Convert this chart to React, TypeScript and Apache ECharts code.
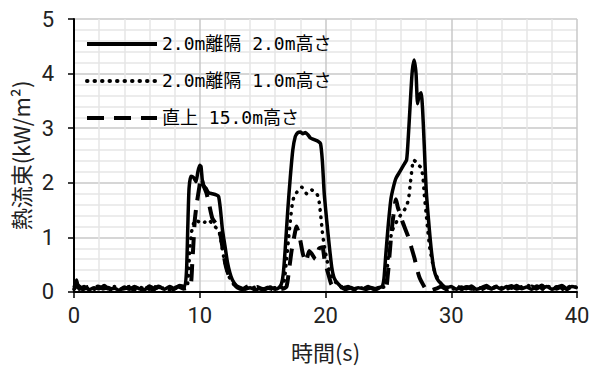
import React, { useEffect, useRef } from "react";
import * as echarts from "echarts";

const seriesNames = ["2.0m離隔 2.0m高さ", "2.0m離隔 1.0m高さ", "直上 15.0m高さ"];

const solid2m: number[][] = [
  [0, 0.08], [0.2, 0.22], [0.4, 0.05], [0.8, 0.1], [1.2, 0.04], [1.6, 0.08], [2.0, 0.06], [2.4, 0.12],
  [2.8, 0.05], [3.2, 0.07], [3.6, 0.03], [4.0, 0.09], [4.4, 0.05], [4.8, 0.1], [5.2, 0.06], [5.6, 0.04],
  [6.0, 0.11], [6.4, 0.06], [6.8, 0.09], [7.2, 0.05], [7.6, 0.1], [8.0, 0.06], [8.4, 0.12], [8.8, 0.1],
  [8.95, 0.4], [9.05, 1.2], [9.15, 1.9], [9.3, 2.12], [9.5, 2.1], [9.7, 2.02], [9.85, 2.2], [10.0, 2.32],
  [10.1, 2.3], [10.2, 2.05], [10.3, 1.95], [10.5, 1.9], [10.7, 1.82], [11.0, 1.8], [11.3, 1.78], [11.5, 1.75],
  [11.65, 1.5], [11.8, 1.15], [12.0, 0.85], [12.2, 0.55], [12.4, 0.35], [12.6, 0.22], [12.9, 0.12], [13.2, 0.08],
  [13.6, 0.05], [14.0, 0.08], [14.4, 0.04], [14.8, 0.07], [15.2, 0.05], [15.6, 0.09], [16.0, 0.05], [16.3, 0.08],
  [16.5, 0.15], [16.65, 0.35], [16.8, 0.8], [17.0, 1.5], [17.2, 2.1], [17.4, 2.6], [17.6, 2.85], [17.8, 2.92],
  [18.0, 2.93], [18.2, 2.9], [18.4, 2.92], [18.6, 2.88], [18.8, 2.82], [19.0, 2.8], [19.2, 2.78], [19.4, 2.76],
  [19.6, 2.72], [19.75, 2.4], [19.9, 1.8], [20.1, 1.3], [20.3, 0.85], [20.5, 0.45], [20.7, 0.25], [21.0, 0.15],
  [21.4, 0.08], [21.8, 0.1], [22.2, 0.05], [22.6, 0.08], [23.0, 0.06], [23.4, 0.1], [23.8, 0.05], [24.2, 0.08],
  [24.5, 0.1], [24.65, 0.25], [24.8, 0.7], [25.0, 1.25], [25.2, 1.7], [25.4, 1.92], [25.6, 2.08], [25.9, 2.2],
  [26.2, 2.32], [26.45, 2.42], [26.6, 2.9], [26.75, 3.5], [26.9, 4.05], [27.05, 4.25], [27.2, 4.0], [27.32, 3.45],
  [27.45, 3.6], [27.6, 3.65], [27.72, 3.35], [27.85, 2.7], [28.0, 1.9], [28.2, 1.3], [28.4, 0.8], [28.6, 0.45],
  [28.85, 0.25], [29.2, 0.15], [29.6, 0.08], [30.0, 0.1], [30.4, 0.05], [30.8, 0.09], [31.2, 0.06], [31.6, 0.11],
  [32.0, 0.05], [32.4, 0.08], [32.8, 0.12], [33.2, 0.06], [33.6, 0.09], [34.0, 0.05], [34.4, 0.1], [34.8, 0.07],
  [35.2, 0.12], [35.6, 0.06], [36.0, 0.09], [36.4, 0.05], [36.8, 0.11], [37.2, 0.07], [37.6, 0.1], [38.0, 0.05],
  [38.4, 0.09], [38.8, 0.12], [39.2, 0.06], [39.6, 0.1], [40.0, 0.08],
];

const dotted1m: number[][] = [
  [0, 0.05], [0.4, 0.1], [0.8, 0.04], [1.2, 0.08], [1.6, 0.05], [2.0, 0.1], [2.4, 0.04], [2.8, 0.08],
  [3.2, 0.1], [3.6, 0.05], [4.0, 0.07], [4.4, 0.1], [4.8, 0.04], [5.2, 0.09], [5.6, 0.06], [6.0, 0.05],
  [6.4, 0.1], [6.8, 0.05], [7.2, 0.08], [7.6, 0.04], [8.0, 0.09], [8.4, 0.06], [8.8, 0.08], [9.0, 0.1],
  [9.1, 0.3], [9.2, 0.75], [9.35, 1.1], [9.5, 1.25], [9.65, 1.32], [9.8, 1.3], [10.0, 1.28], [10.2, 1.25],
  [10.4, 1.28], [10.6, 1.32], [10.8, 1.3], [11.0, 1.25], [11.2, 1.2], [11.4, 1.15], [11.6, 1.05], [11.75, 0.85],
  [11.9, 0.65], [12.1, 0.45], [12.3, 0.3], [12.5, 0.2], [12.8, 0.12], [13.2, 0.08], [13.6, 0.1], [14.0, 0.05],
  [14.4, 0.09], [14.8, 0.06], [15.2, 0.1], [15.6, 0.05], [16.0, 0.08], [16.3, 0.06], [16.6, 0.1], [16.75, 0.25],
  [16.9, 0.6], [17.05, 0.95], [17.2, 1.3], [17.35, 1.6], [17.5, 1.75], [17.7, 1.82], [17.9, 1.88], [18.1, 1.92],
  [18.3, 1.88], [18.5, 1.8], [18.7, 1.85], [18.9, 1.87], [19.1, 1.82], [19.3, 1.8], [19.45, 1.72], [19.6, 1.45],
  [19.75, 1.1], [19.9, 0.85], [20.1, 0.6], [20.3, 0.4], [20.5, 0.28], [20.8, 0.18], [21.2, 0.1], [21.6, 0.06],
  [22.0, 0.1], [22.4, 0.05], [22.8, 0.08], [23.2, 0.04], [23.6, 0.09], [24.0, 0.06], [24.4, 0.08], [24.7, 0.1],
  [24.85, 0.3], [25.0, 0.65], [25.15, 0.95], [25.3, 1.12], [25.5, 1.22], [25.8, 1.35], [26.1, 1.45], [26.4, 1.55],
  [26.6, 1.7], [26.75, 2.0], [26.9, 2.3], [27.0, 2.42], [27.2, 2.38], [27.4, 2.32], [27.6, 2.28], [27.75, 2.1],
  [27.85, 1.8], [28.0, 1.45], [28.15, 1.1], [28.3, 0.8], [28.5, 0.55], [28.7, 0.35], [29.0, 0.22], [29.3, 0.12],
  [29.7, 0.08], [30.1, 0.05], [30.5, 0.1], [30.9, 0.06], [31.3, 0.09], [31.7, 0.04], [32.1, 0.1], [32.5, 0.06],
  [32.9, 0.08], [33.3, 0.11], [33.7, 0.05], [34.1, 0.09], [34.5, 0.06], [34.9, 0.1], [35.3, 0.05], [35.7, 0.08],
  [36.1, 0.12], [36.5, 0.06], [36.9, 0.09], [37.3, 0.05], [37.7, 0.1], [38.1, 0.07], [38.5, 0.11], [38.9, 0.05],
  [39.3, 0.09], [39.7, 0.12], [40.0, 0.07],
];

const dashed15m: number[][] = [
  [0, 0.06], [0.3, 0.12], [0.7, 0.05], [1.1, 0.09], [1.5, 0.04], [1.9, 0.1], [2.3, 0.06], [2.7, 0.08],
  [3.1, 0.04], [3.5, 0.1], [3.9, 0.06], [4.3, 0.08], [4.7, 0.05], [5.1, 0.1], [5.5, 0.05], [5.9, 0.08],
  [6.3, 0.04], [6.7, 0.1], [7.1, 0.06], [7.5, 0.09], [7.9, 0.05], [8.3, 0.1], [8.7, 0.06], [9.1, 0.08],
  [9.3, 0.15], [9.4, 0.5], [9.5, 0.9], [9.6, 1.3], [9.75, 1.6], [9.95, 1.9], [10.1, 2.1], [10.3, 1.95],
  [10.55, 1.8], [10.75, 1.6], [11.0, 1.35], [11.3, 1.25], [11.6, 1.1], [11.85, 0.75], [12.1, 0.45], [12.4, 0.25],
  [12.7, 0.15], [13.0, 0.08], [13.4, 0.05], [13.8, 0.1], [14.2, 0.06], [14.6, 0.09], [15.0, 0.04], [15.4, 0.08],
  [15.8, 0.05], [16.2, 0.09], [16.6, 0.06], [16.9, 0.1], [17.1, 0.4], [17.3, 0.75], [17.5, 1.0], [17.7, 1.2],
  [17.95, 1.0], [18.2, 0.7], [18.45, 0.55], [18.7, 0.75], [18.9, 0.7], [19.2, 0.6], [19.5, 0.8], [19.75, 0.82],
  [19.95, 0.55], [20.2, 0.35], [20.45, 0.15], [20.8, 0.05], [21.2, 0.09], [21.6, 0.05], [22.0, 0.08], [22.4, 0.04],
  [22.8, 0.1], [23.2, 0.05], [23.6, 0.08], [24.0, 0.05], [24.4, 0.09], [24.8, 0.08], [24.95, 0.3], [25.1, 0.7],
  [25.25, 1.1], [25.4, 1.4], [25.6, 1.7], [25.75, 1.55], [25.9, 1.45], [26.1, 1.3], [26.35, 1.15], [26.6, 1.0],
  [26.85, 0.8], [27.1, 0.6], [27.3, 0.4], [27.5, 0.25], [27.8, 0.12], [28.1, 0.02], [28.4, 0.03], [28.8, 0.06],
  [29.2, 0.1], [29.6, 0.05], [30.0, 0.08], [30.4, 0.12], [30.8, 0.05], [31.2, 0.09], [31.6, 0.06], [32.0, 0.1],
  [32.4, 0.05], [32.8, 0.09], [33.2, 0.06], [33.6, 0.1], [34.0, 0.05], [34.4, 0.08], [34.8, 0.11], [35.2, 0.06],
  [35.6, 0.09], [36.0, 0.05], [36.4, 0.1], [36.8, 0.06], [37.2, 0.12], [37.6, 0.05], [38.0, 0.09], [38.4, 0.06],
  [38.8, 0.1], [39.2, 0.05], [39.6, 0.11], [40.0, 0.06],
];

const xTitle = "時間(s)";
const yTitle = "熱流束(kW/m²)";

const numFont = "'Roboto', 'Noto Sans CJK JP', sans-serif";
const cjkFont = "'Noto Sans CJK JP', sans-serif";
const legendFont = "'DejaVu Sans Mono', 'Noto Sans CJK JP', monospace";

export default function App() {
  const ref = useRef<HTMLDivElement>(null);
  useEffect(() => {
    if (!ref.current) return;
    const chart = echarts.init(ref.current, null, { renderer: "svg" });
    const lineCommon = { type: "line", showSymbol: false, symbol: "none", smooth: 0.2 };
    chart.setOption({
      animation: false,
      grid: { left: 74, right: 22, top: 19, bottom: 75 },
      legend: {
        orient: "vertical",
        left: 85,
        top: 35,
        padding: 0,
        itemWidth: 70,
        itemHeight: 18,
        itemGap: 19,
        selectedMode: false,
        icon: "inherit",
        itemStyle: { opacity: 0, borderWidth: 0 },
        lineStyle: { width: 4 },
        textStyle: { fontFamily: legendFont, fontSize: 18, color: "#000" },
        data: seriesNames,
      },
      xAxis: {
        type: "value",
        min: 0,
        max: 40,
        interval: 10,
        name: xTitle,
        nameLocation: "middle",
        nameGap: 48,
        nameTextStyle: { fontFamily: cjkFont, fontSize: 22, color: "#222" },
        axisLine: { show: true, onZero: false, lineStyle: { color: "#000", width: 2 } },
        axisTick: { show: true, length: 6, lineStyle: { color: "#000", width: 1.5 } },
        axisLabel: { fontFamily: numFont, fontSize: 22, color: "#222", margin: 12 },
        splitLine: { show: true, lineStyle: { color: "#c8c8c8", width: 1.5 } },
        minorTick: { show: false, splitNumber: 5 },
        minorSplitLine: { show: true, lineStyle: { color: "#e6e6e6", width: 1.5 } },
      },
      yAxis: {
        type: "value",
        min: 0,
        max: 5,
        interval: 1,
        name: yTitle,
        nameLocation: "middle",
        nameGap: 36,
        nameTextStyle: { fontFamily: cjkFont, fontSize: 22, color: "#222" },
        axisLine: { show: true, lineStyle: { color: "#000", width: 2 } },
        axisTick: { show: true, length: 6, lineStyle: { color: "#000", width: 1.5 } },
        axisLabel: { fontFamily: numFont, fontSize: 22, color: "#222", margin: 20 },
        splitLine: { show: true, lineStyle: { color: "#c8c8c8", width: 1.5 } },
        minorTick: { show: false, splitNumber: 5 },
        minorSplitLine: { show: true, lineStyle: { color: "#e6e6e6", width: 1.5 } },
      },
      series: [
        {
          ...lineCommon,
          name: seriesNames[0],
          data: solid2m,
          itemStyle: { color: "#000" },
          lineStyle: { color: "#000", width: 3.5, type: "solid" },
          z: 3,
        },
        {
          ...lineCommon,
          name: seriesNames[1],
          data: dotted1m,
          itemStyle: { color: "#000" },
          lineStyle: { color: "#000", width: 3.5, type: [0.5, 7], cap: "round" },
          z: 2,
        },
        {
          ...lineCommon,
          name: seriesNames[2],
          data: dashed15m,
          itemStyle: { color: "#000" },
          lineStyle: { color: "#000", width: 4, type: [17, 10] },
          z: 1,
        },
      ],
    });
    return () => chart.dispose();
  }, []);
  return <div ref={ref} style={{ width: 599, height: 367, position: "absolute", left: 0, top: 0 }} />;
}
